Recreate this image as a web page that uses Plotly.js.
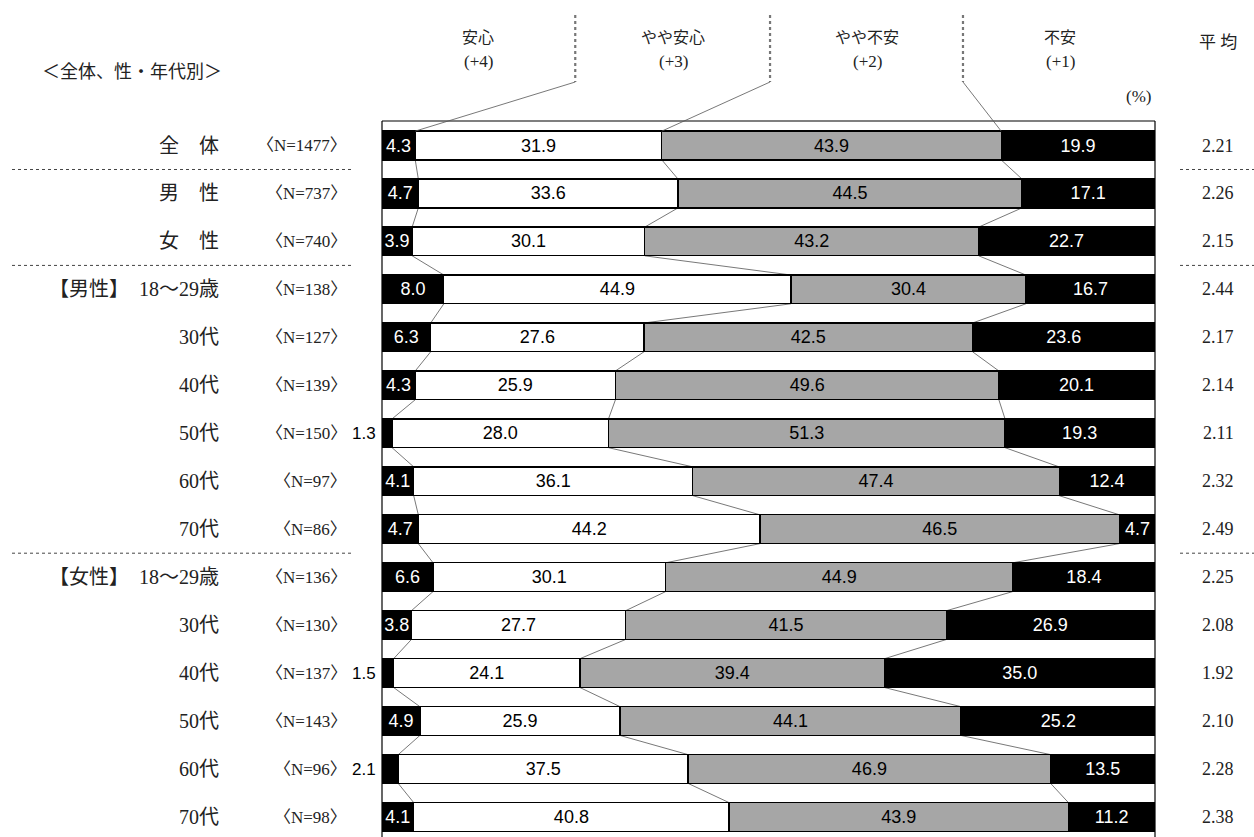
<!DOCTYPE html>
<html>
<head>
<meta charset="utf-8">
<script src="https://cdn.plot.ly/plotly-3.0.1.min.js"></script>
<style>
html,body{margin:0;padding:0;background:#fff;}
#chart{width:1254px;height:837px;}
</style>
</head>
<body>
<div id="chart"></div>
<script>
const categories = ['全　体','男　性','女　性','【男性】　18〜29歳','30代','40代','50代','60代','70代','【女性】　18〜29歳','30代','40代','50代','60代','70代'];
const sampleSizes = [1477,737,740,138,127,139,150,97,86,136,130,137,143,96,98];
const anshin     = [4.3,4.7,3.9,8.0,6.3,4.3,1.3,4.1,4.7,6.6,3.8,1.5,4.9,2.1,4.1];
const yayaAnshin = [31.9,33.6,30.1,44.9,27.6,25.9,28.0,36.1,44.2,30.1,27.7,24.1,25.9,37.5,40.8];
const yayaFuan   = [43.9,44.5,43.2,30.4,42.5,49.6,51.3,47.4,46.5,44.9,41.5,39.4,44.1,46.9,43.9];
const fuan       = [19.9,17.1,22.7,16.7,23.6,20.1,19.3,12.4,4.7,18.4,26.9,35.0,25.2,13.5,11.2];
const averages   = ['2.21','2.26','2.15','2.44','2.17','2.14','2.11','2.32','2.49','2.25','2.08','1.92','2.10','2.28','2.38'];
const seriesNames  = ['安心','やや安心','やや不安','不安'];
const seriesScores = ['(+4)','(+3)','(+2)','(+1)'];
const groupBreaksAfter = [0, 2, 8];

// ---- styling / layout helpers ----
const W = 1254, H = 837;
const L = 382, R = 1155, T = 121, B = 837;
const PW = R - L, PH = B - T;
const yMin = -0.511, yMax = 14.417;
const barW = 0.6;
const px = x => (x - L) / PW;          // pixel x -> paper
const py = y => (B - y) / PH;          // pixel y -> paper
const yPaper = v => (yMax - v) / (yMax - yMin); // data y -> paper

const serif = '"Liberation Serif", "Noto Sans CJK JP", serif';
const sans = '"Liberation Sans", Arial, sans-serif';

const series = [anshin, yayaAnshin, yayaFuan, fuan];
const fills = ['#000000', '#ffffff', '#a6a6a6', '#000000'];
const textCols = ['#ffffff', '#000000', '#000000', '#ffffff'];
const idx = categories.map((_, i) => i);

const traces = series.map((vals, s) => ({
  type: 'bar',
  orientation: 'h',
  name: seriesNames[s],
  x: vals,
  y: idx,
  width: barW,
  marker: {color: fills[s], line: {color: '#000', width: 1.3}},
  text: vals.map(v => (s === 0 && v < 3) ? '' : v.toFixed(1)),
  textposition: 'inside',
  insidetextanchor: 'middle',
  textangle: 0,
  constraintext: 'none',
  textfont: {family: sans, size: 18, color: textCols[s]},
  hoverinfo: 'skip',
  showlegend: false
}));

const shapes = [];
const annotations = [];

// frame (left, top, right)
shapes.push({type: 'line', xref: 'paper', yref: 'paper', x0: 0, x1: 0, y0: -0.02, y1: 1, line: {color: '#000', width: 1.2}});
shapes.push({type: 'line', xref: 'paper', yref: 'paper', x0: 1, x1: 1, y0: -0.02, y1: 1, line: {color: '#000', width: 1.2}});
shapes.push({type: 'line', xref: 'paper', yref: 'paper', x0: 0, x1: 1, y0: 1, y1: 1, line: {color: '#000', width: 1.2}});

// cumulative boundaries
const cum = idx.map(i => {
  const a = anshin[i], b = a + yayaAnshin[i], c = b + yayaFuan[i];
  return [a, b, c];
});

// connector lines between rows
for (let i = 0; i < idx.length - 1; i++) {
  for (let k = 0; k < 3; k++) {
    shapes.push({type: 'line', xref: 'x', yref: 'y', layer: 'below',
      x0: cum[i][k], y0: i + barW / 2, x1: cum[i + 1][k], y1: i + 1 - barW / 2,
      line: {color: '#555', width: 0.8}});
  }
}

// header leader lines
const leaderX = [0.25, 0.502, 0.7516];
leaderX.forEach((lx, k) => {
  shapes.push({type: 'line', xref: 'paper', yref: 'paper', x0: lx, x1: lx, y0: py(15), y1: py(82),
    line: {color: '#777', width: 2.2, dash: 'dot'}});
  shapes.push({type: 'line', xref: 'paper', yref: 'paper', x0: lx, y0: py(82),
    x1: cum[0][k] / 100, y1: yPaper(-barW / 2),
    line: {color: '#555', width: 0.8}});
});

// dashed group separators
groupBreaksAfter.forEach(g => {
  const yy = g + 0.5;
  shapes.push({type: 'line', xref: 'paper', yref: 'y', x0: px(12), x1: px(354), y0: yy, y1: yy,
    line: {color: '#444', width: 1, dash: 'dot'}});
  shapes.push({type: 'line', xref: 'paper', yref: 'y', x0: px(1180), x1: px(1254), y0: yy, y1: yy,
    line: {color: '#444', width: 1, dash: 'dot'}});
});

// header labels
const headerX = [478, 673, 867, 1060];
seriesNames.forEach((n, k) => {
  annotations.push({xref: 'paper', yref: 'paper', x: px(headerX[k]), y: py(37), text: n, showarrow: false,
    xanchor: 'center', yanchor: 'middle', font: {family: serif, size: 16, color: '#222'}});
  annotations.push({xref: 'paper', yref: 'paper', x: px(headerX[k]), y: py(62), text: seriesScores[k], showarrow: false,
    xanchor: 'center', yanchor: 'middle', font: {family: serif, size: 17, color: '#222'}});
});
annotations.push({xref: 'paper', yref: 'paper', x: px(1153), y: py(97), text: '(%)', showarrow: false,
  xanchor: 'right', yanchor: 'middle', font: {family: serif, size: 17, color: '#222'}});
annotations.push({xref: 'paper', yref: 'paper', x: px(1218), y: py(43), text: '平 均', showarrow: false,
  xanchor: 'center', yanchor: 'middle', font: {family: serif, size: 17, color: '#222'}});
annotations.push({xref: 'paper', yref: 'paper', x: px(40), y: py(72), text: '＜全体、性・年代別＞', showarrow: false,
  xanchor: 'left', yanchor: 'middle', font: {family: serif, size: 18, color: '#222'}});

// row labels
idx.forEach(i => {
  annotations.push({xref: 'paper', yref: 'y', x: px(221), y: i, text: categories[i], showarrow: false,
    xanchor: 'right', yanchor: 'middle', font: {family: serif, size: 20, color: '#222'}});
  annotations.push({xref: 'paper', yref: 'y', x: px(349), y: i, text: '〈N=' + sampleSizes[i] + '〉', showarrow: false,
    xanchor: 'right', yanchor: 'middle', font: {family: serif, size: 17, color: '#222'}});
  annotations.push({xref: 'paper', yref: 'y', x: px(1218), y: i, text: averages[i], showarrow: false,
    xanchor: 'center', yanchor: 'middle', font: {family: serif, size: 18, color: '#222'}});
  if (anshin[i] < 3) {
    annotations.push({xref: 'paper', yref: 'y', x: px(378), y: i, text: anshin[i].toFixed(1), showarrow: false,
      xanchor: 'right', yanchor: 'middle', font: {family: sans, size: 17, color: '#000'}});
  }
});

const layout = {
  width: W, height: H,
  margin: {l: L, r: W - R, t: T, b: 0, pad: 0},
  paper_bgcolor: '#ffffff', plot_bgcolor: '#ffffff',
  barmode: 'stack',
  showlegend: false,
  xaxis: {range: [0, 100], visible: false, fixedrange: true},
  yaxis: {range: [yMax, yMin], visible: false, fixedrange: true},
  shapes: shapes,
  annotations: annotations
};

Plotly.newPlot('chart', traces, layout, {displayModeBar: false, staticPlot: true});
</script>
</body>
</html>
